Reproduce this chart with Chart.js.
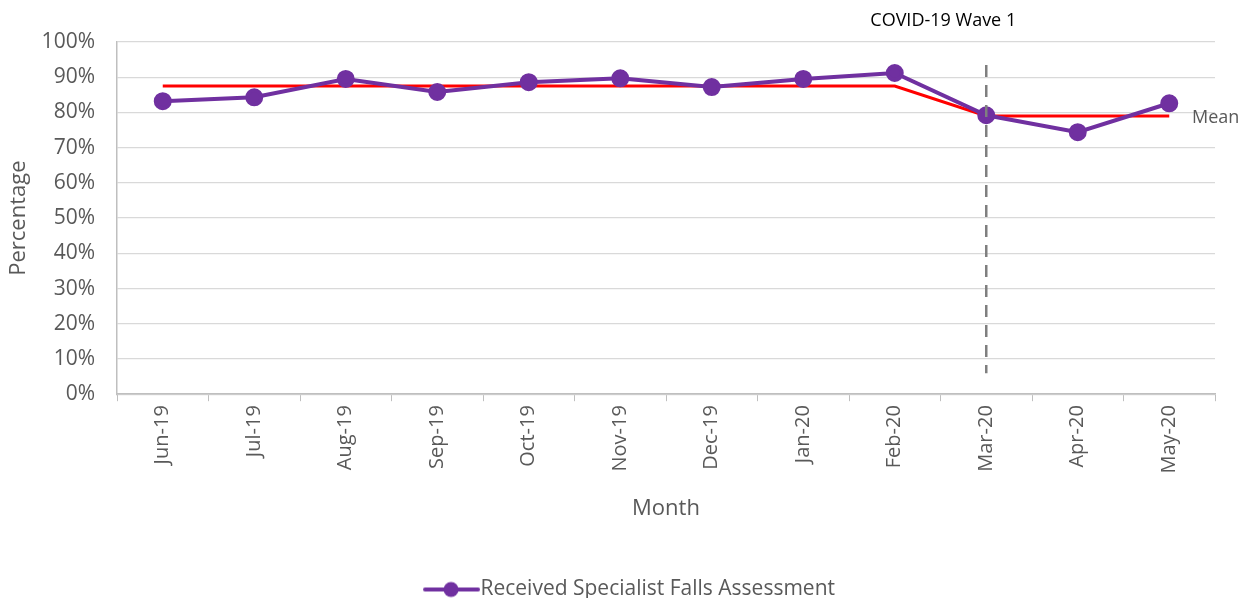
<!DOCTYPE html>
<html>
<head>
<meta charset="utf-8">
<script src="https://cdn.jsdelivr.net/npm/chart.js@4.4.1/dist/chart.umd.min.js"></script>
<style>
  html, body { margin: 0; padding: 0; background: #fff; }
  #wrap { width: 1243px; height: 598px; }
</style>
</head>
<body>
<div id="wrap"><canvas id="fallsChart"></canvas></div>
<script>
// data
const months = ['Jun-19', 'Jul-19', 'Aug-19', 'Sep-19', 'Oct-19', 'Nov-19',
                'Dec-19', 'Jan-20', 'Feb-20', 'Mar-20', 'Apr-20', 'May-20'];
const assessed = [83.2, 84.3, 89.5, 85.8, 88.6, 89.7, 87.2, 89.5, 91.2, 79.2, 74.4, 82.6];
const meanLine = [87.5, 87.5, 87.5, 87.5, 87.5, 87.5, 87.5, 87.5, 87.5, 79.0, 79.0, 79.0];
const yTicks = [0, 10, 20, 30, 40, 50, 60, 70, 80, 90, 100];
const waveStart = 'Mar-20';
const waveLabel = 'COVID-19 Wave 1';

const FONT = '"Open Sans", sans-serif';
const GREY = '#595959';

// marker image for the legend: line with a dot (Excel style), left part blank
const legendMark = document.createElement('canvas');
legendMark.width = 78; legendMark.height = 18;
(function () {
    const c = legendMark.getContext('2d');
    c.strokeStyle = '#7030A0';
    c.lineWidth = 4;
    c.lineCap = 'round';
    c.beginPath(); c.moveTo(23, 9); c.lineTo(76, 9); c.stroke();
    c.fillStyle = '#7030A0';
    c.beginPath(); c.arc(49, 9, 7.5, 0, Math.PI * 2); c.fill();
})();

// dashed wave marker, its caption and the "Mean" tag
const extras = {
    id: 'extras',
    afterLayout(chart) {
        // nudge the legend a little to the right, as in the original
        chart.legend.left += 14;
        chart.legend.right += 14;
    },
    afterDatasetsDraw(chart) {
        const ctx = chart.ctx;
        const x = chart.scales.x.getPixelForValue(months.indexOf(waveStart));
        const area = chart.chartArea;
        ctx.save();
        ctx.strokeStyle = '#7f7f7f';
        ctx.lineWidth = 2.5;
        ctx.setLineDash([12, 8]);
        ctx.beginPath();
        ctx.moveTo(x, area.top + 23);
        ctx.lineTo(x, area.bottom - 21);
        ctx.stroke();
        ctx.setLineDash([]);

        ctx.fillStyle = '#000';
        ctx.font = '18px ' + FONT;
        ctx.textAlign = 'center';
        ctx.textBaseline = 'middle';
        ctx.fillText(waveLabel, x - 43, 21);

        const meta = chart.getDatasetMeta(1);
        const last = meta.data[meta.data.length - 1];
        ctx.fillStyle = GREY;
        ctx.textAlign = 'left';
        ctx.fillText('Mean', area.right - 23, last.y + 2);
        ctx.restore();
    }
};

const ctx = document.getElementById('fallsChart').getContext('2d');
new Chart(ctx, {
    type: 'line',
    data: {
        labels: months,
        datasets: [{
            label: 'Received Specialist Falls Assessment',
            data: assessed,
            borderColor: '#7030A0',
            backgroundColor: '#7030A0',
            borderWidth: 4,
            pointRadius: 7,
            pointHoverRadius: 7,
            tension: 0
        }, {
            label: 'Mean',
            data: meanLine,
            borderColor: '#FF0000',
            borderWidth: 3,
            pointRadius: 0,
            tension: 0
        }]
    },
    options: {
        responsive: true,
        maintainAspectRatio: false,
        animation: false,
        layout: { padding: { top: 42, right: 28, left: 4, bottom: -12 } },
        plugins: {
            tooltip: { enabled: false },
            legend: {
                position: 'bottom',
                labels: {
                    color: GREY,
                    font: { family: FONT, size: 21 },
                    usePointStyle: true,
                    pointStyleWidth: 58,
                    boxHeight: 18,
                    padding: 4,
                    generateLabels: chart => [{
                        text: chart.data.datasets[0].label,
                        pointStyle: legendMark,
                        fontColor: GREY,
                        datasetIndex: 0,
                        hidden: false,
                        lineWidth: 0
                    }]
                }
            }
        },
        scales: {
            x: {
                offset: true,
                grid: {
                    offset: true,
                    drawOnChartArea: false,
                    drawTicks: true,
                    tickLength: 7,
                    color: '#bfbfbf'
                },
                border: { color: '#bfbfbf', width: 1.5 },
                ticks: {
                    color: GREY,
                    font: { family: FONT, size: 20 },
                    minRotation: 90,
                    maxRotation: 90,
                    padding: 4
                },
                title: {
                    display: true,
                    text: 'Month',
                    color: GREY,
                    font: { family: FONT, size: 22 },
                    padding: { top: 18, bottom: 53 }
                }
            },
            y: {
                min: 0,
                max: 100,
                afterBuildTicks: axis => { axis.ticks = yTicks.map(v => ({ value: v })); },
                afterFit: axis => { axis.width = 113; },
                grid: { color: '#d9d9d9', lineWidth: 1.2, drawTicks: false },
                border: { color: '#bfbfbf', width: 1.5 },
                ticks: {
                    color: GREY,
                    font: { family: FONT, size: 21 },
                    padding: 22,
                    callback: v => v + '%'
                },
                title: {
                    display: true,
                    text: 'Percentage',
                    color: GREY,
                    font: { family: FONT, size: 22 },
                    padding: { top: 2, bottom: 4 }
                }
            }
        }
    },
    plugins: [extras]
});
</script>
</body>
</html>
